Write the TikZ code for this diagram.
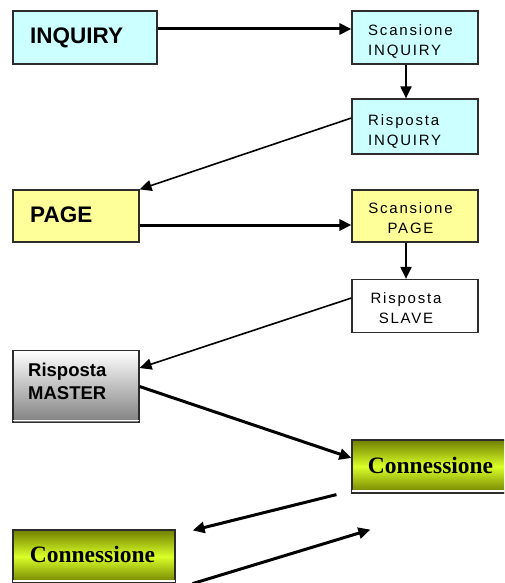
\documentclass[tikz,border=0pt]{standalone}
\usepackage{fontspec}
\setmainfont{Liberation Sans}
\newfontfamily\smallsans[LetterSpace=12]{Liberation Sans}
\newfontfamily\serifbold{Liberation Serif}
\usetikzlibrary{arrows.meta}

\definecolor{inqfill}{RGB}{204,255,255}
\definecolor{pagefill}{RGB}{255,255,153}
\definecolor{boxline}{RGB}{45,45,45}
\definecolor{olive}{RGB}{112,128,0}
\definecolor{lime}{RGB}{218,255,40}
\definecolor{greyend}{RGB}{128,128,128}

\tikzset{
  box/.style={draw=boxline, line width=1.2pt, rectangle, inner sep=0pt},
  inqbox/.style={box, fill=inqfill},
  pagebox/.style={box, fill=pagefill},
  plainbox/.style={box, fill=white},
  masterbox/.style={box, top color=white, bottom color=greyend},
  connbox/.style={box, top color=olive, bottom color=olive, middle color=lime},
  bigtxt/.style={inner sep=0pt, font=\fontsize{22.5}{26}\selectfont\bfseries},
  smalltxt/.style={inner sep=0pt, font=\fontsize{15}{20}\selectfont\smallsans},
  mastertxt/.style={inner sep=0pt, align=left, font=\fontsize{18.5}{23}\selectfont\bfseries},
  conntxt/.style={inner sep=0pt, font=\fontsize{23.5}{26}\selectfont\serifbold\bfseries},
  tip/.style={-{Triangle[length=12pt,width=11pt]}},
  heavy/.style={tip, line width=3pt},
  medium/.style={tip, line width=2pt},
  light/.style={tip, line width=1.6pt},
  strip/.style={white, line width=1.5pt}
}

\begin{document}
\begin{tikzpicture}[x=1pt, y=-1pt]
  \useasboundingbox (0,0) rectangle (504,583);
  \clip (0,0) rectangle (504,583);

  % boxes
  \node[inqbox, minimum width=144pt, minimum height=53pt] (inq) at (85,37.5) {};
  \node[inqbox, minimum width=126pt, minimum height=53pt] (scinq) at (415,37.5) {};
  \node[inqbox, minimum width=126pt, minimum height=55pt] (rispinq) at (415,126.5) {};
  \node[pagebox, minimum width=126pt, minimum height=52pt] (page) at (76,216) {};
  \node[pagebox, minimum width=126pt, minimum height=52pt] (scpage) at (415,216) {};
  \node[plainbox, minimum width=126pt, minimum height=53pt] (slave) at (415,306) {};
  \node[masterbox, minimum width=126pt, minimum height=72pt] (master) at (76,386.5) {};
  \node[connbox, minimum width=162pt, minimum height=53pt] (conR) at (433,466.5) {};
  \node[connbox, minimum width=162pt, minimum height=53pt] (conL) at (94,556.5) {};

  % light strips along the lower edges
  \draw[strip] ([xshift=1pt,yshift=2.5pt]master.south west) -- ([xshift=-1pt,yshift=2.5pt]master.south east);
  \draw[strip] ([xshift=1pt,yshift=2.5pt]conR.south west) -- ([xshift=-1pt,yshift=2.5pt]conR.south east);
  \draw[strip] ([xshift=1pt,yshift=2.5pt]conL.south west) -- ([xshift=-1pt,yshift=2.5pt]conL.south east);

  % labels
  \node[bigtxt, anchor=base west] (tinq) at (30,44) {INQUIRY};
  \node[smalltxt, align=left, anchor=north west] (tscinq) at (368,24) {Scansione\\INQUIRY};
  \node[smalltxt, align=left, anchor=north west] (trispinq) at (368,114) {Risposta\\INQUIRY};
  \node[bigtxt, anchor=base west] (tpage) at (30,222) {PAGE};
  \node[smalltxt, align=center, anchor=north] (tscpage) at (410.5,202) {Scansione\\PAGE};
  \node[smalltxt, align=center, anchor=north] (tslave) at (406,292) {Risposta\\SLAVE};
  \node[mastertxt, anchor=north west] (tmaster) at (28,363) {Risposta\\MASTER};
  \node[conntxt, anchor=base] (tconR) at (430.5,473) {Connessione};
  \node[conntxt, anchor=base] (tconL) at (92.5,562) {Connessione};

  % free ends of the exchange arrows
  \coordinate (exA) at ([xshift=-15pt,yshift=-1pt]conR.south west);
  \coordinate (exB) at ([xshift=17pt,yshift=-1pt]conL.north east);
  \coordinate (exC) at ([xshift=17pt]conL.south east);
  \coordinate (exD) at ([xshift=19pt,yshift=-36pt]conR.south west);

  % connectors
  \draw[heavy] ([yshift=8.5pt]inq.east) -- ([yshift=8.5pt]scinq.west);
  \draw[medium] ([xshift=-9pt]scinq.south) -- ([xshift=-9pt]rispinq.north);
  \draw[light] ([yshift=8.5pt]rispinq.west) -- (page.north east);
  \draw[heavy] ([yshift=-9pt]page.east) -- ([yshift=-9pt]scpage.west);
  \draw[medium] ([xshift=-9pt]scpage.south) -- ([xshift=-9pt]slave.north);
  \draw[light] ([yshift=8pt]slave.west) -- ([yshift=18.5pt]master.east);
  \draw[heavy] (master.east) -- ([yshift=8.5pt]conR.west);
  \draw[heavy] (exA) -- (exB);
  \draw[heavy] (exC) -- (exD);
\end{tikzpicture}
\end{document}
